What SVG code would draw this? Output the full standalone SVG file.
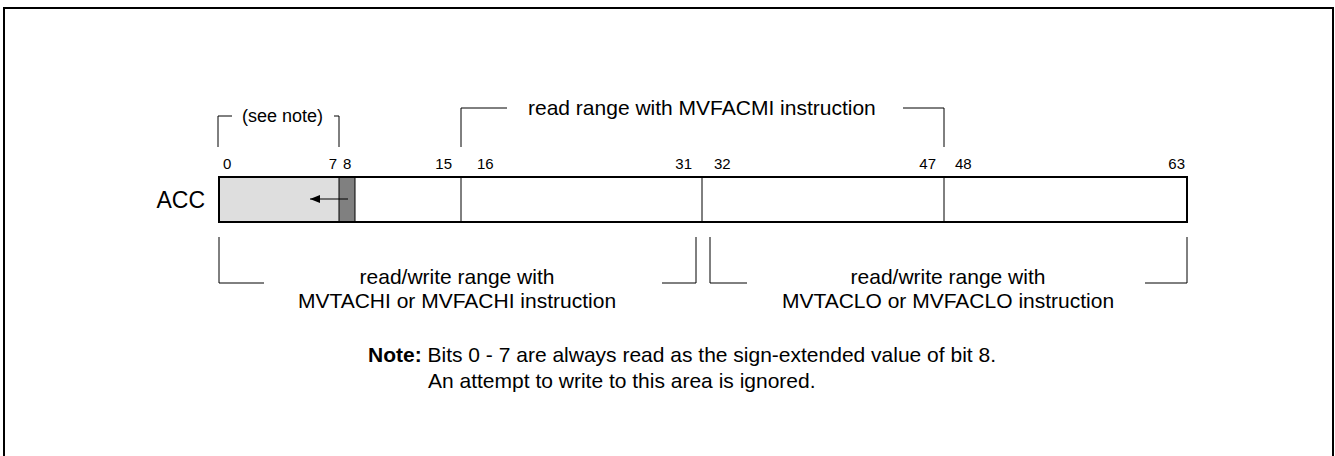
<svg xmlns="http://www.w3.org/2000/svg" width="1335" height="456" viewBox="0 0 1335 456">
<defs>
<style>
text{font-family:"Liberation Sans",Arial,sans-serif;fill:#000}
.num{font-size:15px}
.lbl{font-size:21px}
.ln{fill:none;stroke:#000;stroke-width:1}
</style>
<marker id="ah" markerWidth="10" markerHeight="8" refX="10" refY="4" orient="auto" markerUnits="userSpaceOnUse">
<path d="M0,0 L10,4 L0,8 Z" fill="#000"/>
</marker>
</defs>
<rect x="0" y="0" width="1335" height="456" fill="#fff"/>
<path d="M4,460 V8 H1333 V460" fill="none" stroke="#000" stroke-width="2"/>
<g id="register">
<rect x="219" y="177" width="120" height="45" fill="#dedede"/>
<rect x="339" y="177" width="16" height="45" fill="#808080"/>
<line class="ln" x1="339" y1="177" x2="339" y2="222"/>
<line class="ln" x1="355" y1="177" x2="355" y2="222"/>
<line class="ln" x1="461" y1="177" x2="461" y2="222"/>
<line class="ln" x1="702" y1="177" x2="702" y2="222"/>
<line class="ln" x1="944" y1="177" x2="944" y2="222"/>
<rect x="219" y="177" width="968" height="45" fill="none" stroke="#000" stroke-width="2"/>
<text x="205" y="208" style="font-size:23px" text-anchor="end">ACC</text>
</g>
<g id="bits">
<text x="223" y="169" class="num">0</text>
<text x="337" y="169" class="num" text-anchor="end">7</text>
<text x="343" y="169" class="num">8</text>
<text x="452" y="169" class="num" text-anchor="end">15</text>
<text x="477" y="169" class="num">16</text>
<text x="692" y="169" class="num" text-anchor="end">31</text>
<text x="714" y="169" class="num">32</text>
<text x="936" y="169" class="num" text-anchor="end">47</text>
<text x="955" y="169" class="num">48</text>
<text x="1185" y="169" class="num" text-anchor="end">63</text>
</g>
<g id="connectors">
<line class="ln" x1="348" y1="199" x2="310" y2="199" marker-end="url(#ah)"/>
<path class="ln" d="M218,147 V116 H232 M334,116 H339 V147"/>
<path class="ln" d="M461,147 V108 H507 M903,108 H944 V147"/>
<path class="ln" d="M219,237 V283 H264 M662,283 H696 V237"/>
<path class="ln" d="M710,237 V283 H747 M1145,283 H1187 V237"/>
</g>
<g id="see-note">
<text x="242" y="122" style="font-size:18px">(see note)</text>
</g>
<g id="mvfacmi">
<text x="528" y="115" class="lbl">read range with MVFACMI instruction</text>
</g>
<g id="hi">
<text x="457" y="284" class="lbl" text-anchor="middle">read/write range with</text>
<text x="457" y="308" class="lbl" text-anchor="middle">MVTACHI or MVFACHI instruction</text>
</g>
<g id="lo">
<text x="948" y="284" class="lbl" text-anchor="middle">read/write range with</text>
<text x="948" y="308" class="lbl" text-anchor="middle">MVTACLO or MVFACLO instruction</text>
</g>
<g id="note">
<text x="368" y="362" class="lbl"><tspan font-weight="bold">Note:</tspan> Bits 0 - 7 are always read as the sign-extended value of bit 8.</text>
<text x="428" y="388" class="lbl">An attempt to write to this area is ignored.</text>
</g>
</svg>
